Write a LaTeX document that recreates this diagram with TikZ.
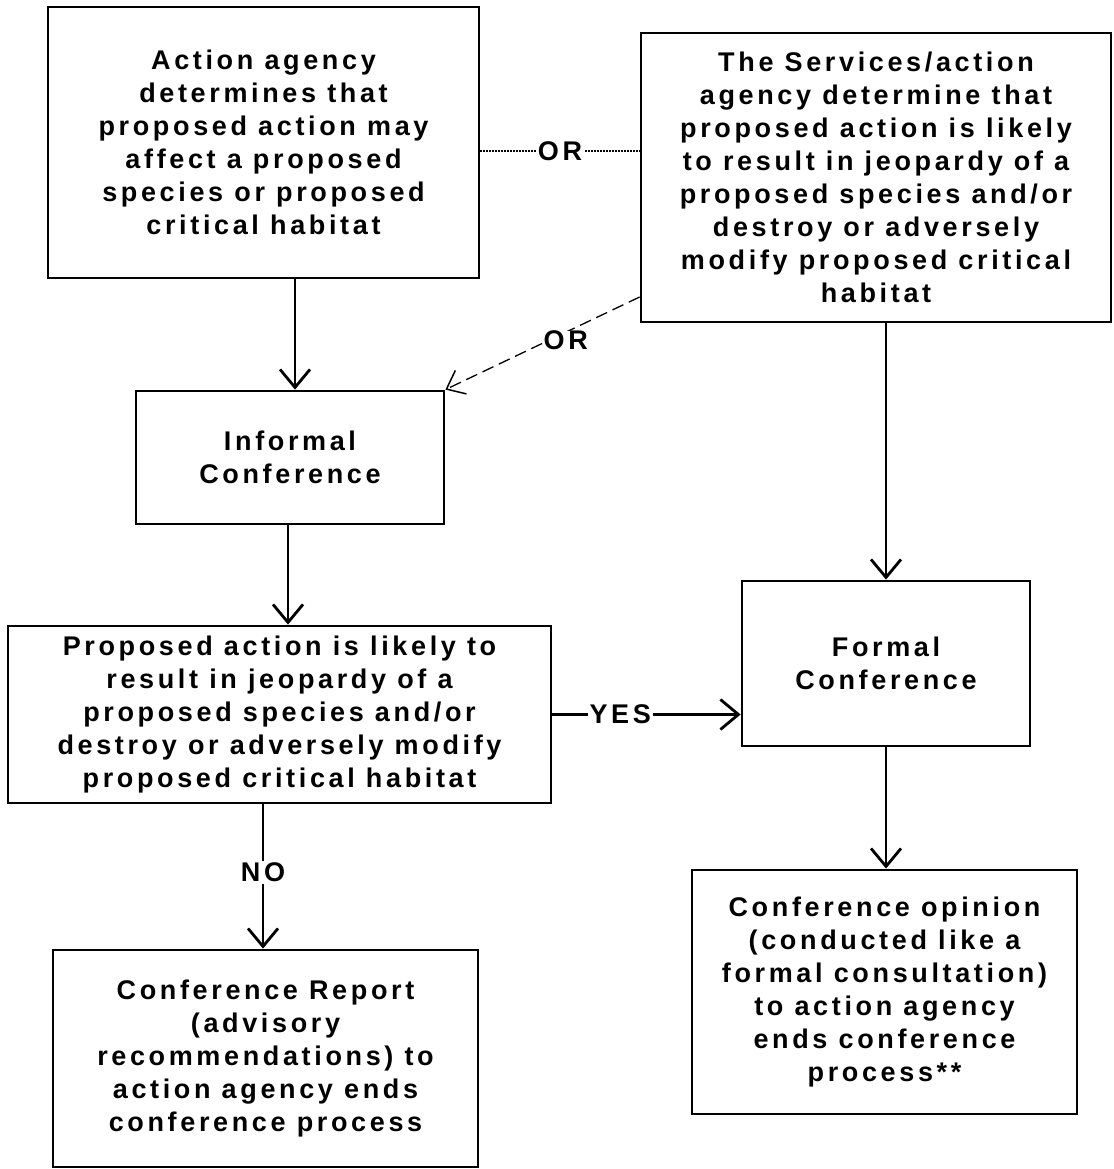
\documentclass[tikz,border=0pt]{standalone}
\usepackage{fontspec}
\setmainfont{Liberation Sans}[LetterSpace=13.5, UprightFont=* Bold]
\usetikzlibrary{arrows.meta}
\begin{document}
\begin{tikzpicture}[x=1pt,y=-1pt,
  box/.style={draw, line width=2.8pt, align=center, inner sep=0pt, font=\fontsize{27}{33}\selectfont},
  lbl/.style={fill=white, inner sep=2pt, font=\fontsize{27}{33}\selectfont},
  arr/.style={line width=2.8pt, -{Straight Barb[length=18pt,width=30pt,line width=2.8pt]}},
  thinarr/.style={line width=1.3pt, dash pattern=on 12pt off 6pt, -{Straight Barb[length=16pt,width=26pt,line width=1.5pt]}},
  dotline/.style={line width=1.2pt, dash pattern=on 1.5pt off 1.5pt}]
\useasboundingbox (0,0) rectangle (1113,1169);
\node[box, minimum width=431pt, minimum height=271pt] (A) at (263.5,142.5) {Action agency\\determines that\\proposed action may\\affect a proposed\\species or proposed\\critical habitat};
\node[box, minimum width=470pt, minimum height=289pt] (B) at (876,177.5) {The Services/action\\agency determine that\\proposed action is likely\\to result in jeopardy of a\\proposed species and/or\\destroy or adversely\\modify proposed critical\\habitat};
\node[box, minimum width=308pt, minimum height=133pt] (I) at (290,457.5) {Informal\\Conference};
\node[box, minimum width=543pt, minimum height=177pt] (P) at (279.5,714.5) {Proposed action is likely to\\result in jeopardy of a\\proposed species and/or\\destroy or adversely modify\\proposed critical habitat};
\node[box, minimum width=288pt, minimum height=165pt] (F) at (886,663.5) {Formal\\Conference};
\node[box, minimum width=425pt, minimum height=217pt] (R) at (265.5,1058.5) {Conference Report\\(advisory\\recommendations) to\\action agency ends\\conference process};
\node[box, minimum width=385pt, minimum height=244pt] (O) at (884.5,992) {Conference opinion\\(conducted like a\\formal consultation)\\to action agency\\ends conference\\process**};
\draw[arr] ([xshift=31.5pt]A.south) -- ([xshift=5pt]I.north);
\draw[arr] ([xshift=10pt]B.south) -- (F.north);
\draw[arr] ([xshift=-2pt]I.south) -- ([xshift=8.5pt]P.north);
\draw[arr] ([xshift=-16.5pt]P.south) -- node[lbl, pos=0.47] {NO} ([xshift=-2.5pt]R.north);
\draw[arr] (F.south) -- ([xshift=1.5pt]O.north);
\draw[arr] (P.east) -- node[lbl, pos=0.36] {YES} (F.west |- P.east);
\draw[dotline] ([yshift=-8.5pt]A.east) -- node[lbl] {OR} ([yshift=26.5pt]B.west);
\draw[thinarr] ([yshift=-119.5pt]B.west) -- node[lbl, pos=0.38, inner sep=0pt, yshift=-8pt] {OR} (I.north east);
\end{tikzpicture}
\end{document}
